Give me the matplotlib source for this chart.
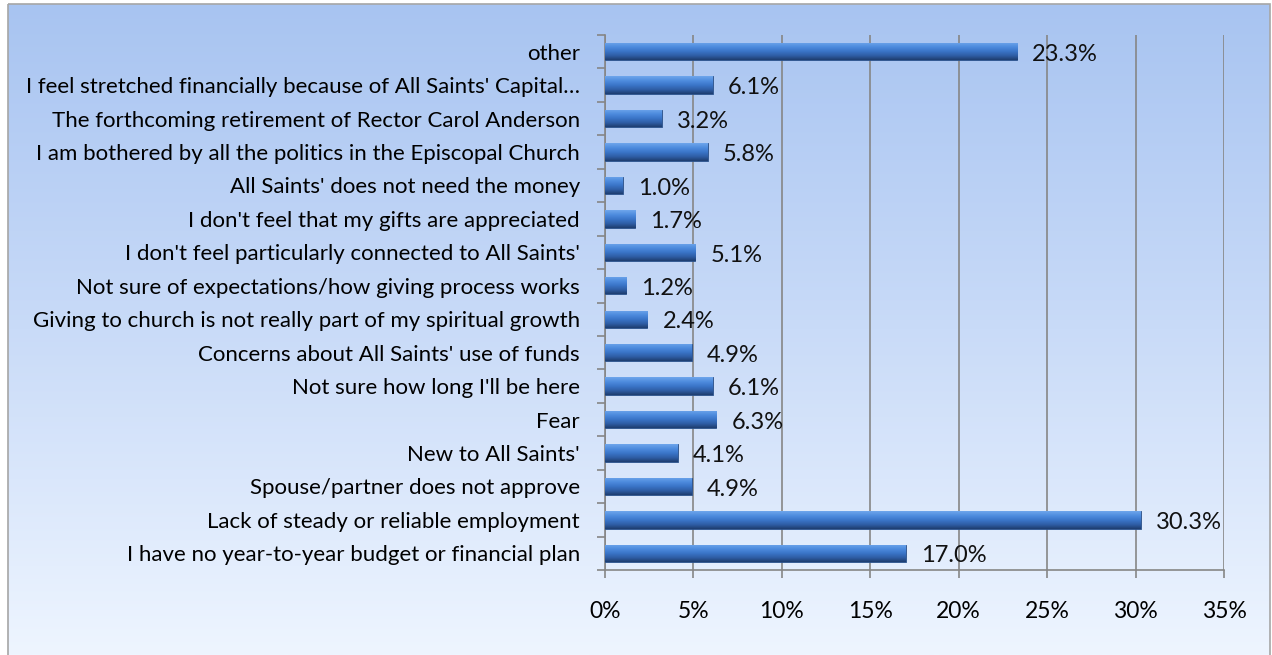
#!/usr/bin/env python3
"""
Reasons for not giving - horizontal bar chart
"""

import numpy as np
import matplotlib.pyplot as plt
from matplotlib.colors import LinearSegmentedColormap
from matplotlib.patches import Rectangle

plt.rcParams['font.family'] = ['Lato', 'DejaVu Sans']

# data, bottom to top
reasons = [
    "I have no year-to-year budget or financial plan",
    "Lack of steady or reliable employment",
    "Spouse/partner does not approve",
    "New to All Saints'",
    "Fear",
    "Not sure how long I'll be here",
    "Concerns about All Saints' use of funds",
    "Giving to church is not really part of my spiritual growth",
    "Not sure of expectations/how giving process works",
    "I don't feel particularly connected to All Saints'",
    "I don't feel that my gifts are appreciated",
    "All Saints' does not need the money",
    "I am bothered by all the politics in the Episcopal Church",
    "The forthcoming retirement of Rector Carol Anderson",
    "I feel stretched financially because of All Saints' Capital\u2026",
    "other",
]
percent = [17.0, 30.3, 4.9, 4.1, 6.3, 6.1, 4.9, 2.4, 1.2, 5.1, 1.7, 1.0, 5.8, 3.2, 6.1, 23.3]
x_ticks = [0, 5, 10, 15, 20, 25, 30, 35]

W, H = 1272, 655
fig = plt.figure(figsize=(W / 100, H / 100), dpi=100)
fig.patch.set_facecolor('white')

# gradient background inside a thin frame
bg = fig.add_axes([0, 0, 1, 1], zorder=0)
bg.set_xlim(0, W)
bg.set_ylim(H, 0)
bg.axis('off')
bg_cmap = LinearSegmentedColormap.from_list('bg', ['#a8c4f1', '#c9dbf8', '#eef5ff'])
grad = np.linspace(0, 1, 256).reshape(-1, 1)
img = bg.imshow(grad, cmap=bg_cmap, aspect='auto', extent=(8, W - 2, H, 4), zorder=0)
frame = Rectangle((8, 4), W - 10, H + 5, facecolor='none', edgecolor='#a6a6a6', lw=1.2, zorder=1)
bg.add_patch(frame)
img.set_clip_path(frame)

ax = fig.add_axes([605 / W, 1 - 570 / H, (1224 - 605) / W, (570 - 35) / H], zorder=1)
ax.patch.set_alpha(0)

y = np.arange(len(reasons))
bar_h = 0.52
bar_cmap = LinearSegmentedColormap.from_list(
    'bar', ['#1e3d6e', '#2f5ea6', '#3b76c9', '#4f8ddf', '#6fa6ec'])
bars = ax.barh(y, percent, height=bar_h, color='#3b76c9', edgecolor='#2a4f86', lw=0.6, zorder=3)
for b in bars:
    x0, y0 = b.get_x(), b.get_y()
    w, h = b.get_width(), b.get_height()
    im = ax.imshow(grad, cmap=bar_cmap, aspect='auto',
                   extent=(x0, x0 + w, y0, y0 + h), origin='lower', zorder=3)
    im.set_clip_path(b)

for yi, v in zip(y, percent):
    ax.text(v + 0.85, yi - 0.08, f'{v:.1f}%', va='center', ha='left',
            fontsize=17, color='#111111', zorder=5)

ax.set_xlim(0, 35)
ax.set_ylim(-0.5, len(reasons) - 0.5)
ax.set_xticks(x_ticks)
ax.set_xticklabels([f'{t}%' for t in x_ticks], fontsize=16.5)
ax.set_yticks(y)
ax.set_yticklabels(reasons, fontsize=16)
ax.set_yticks(np.arange(-0.5, len(reasons), 1.0), minor=True)

ax.tick_params(axis='y', which='major', length=0, pad=18)
ax.tick_params(axis='y', which='minor', length=6, color='#868686', width=1.2, direction='out')
ax.tick_params(axis='x', length=6, color='#868686', width=1.2, direction='out', pad=16)

ax.grid(axis='x', color='#868686', lw=1.2, zorder=1)
ax.set_axisbelow(True)
for s in ['top', 'right']:
    ax.spines[s].set_visible(False)
for s in ['left', 'bottom']:
    ax.spines[s].set_color('#868686')
    ax.spines[s].set_linewidth(1.2)

fig.savefig('out.png', dpi=100, facecolor='white')
